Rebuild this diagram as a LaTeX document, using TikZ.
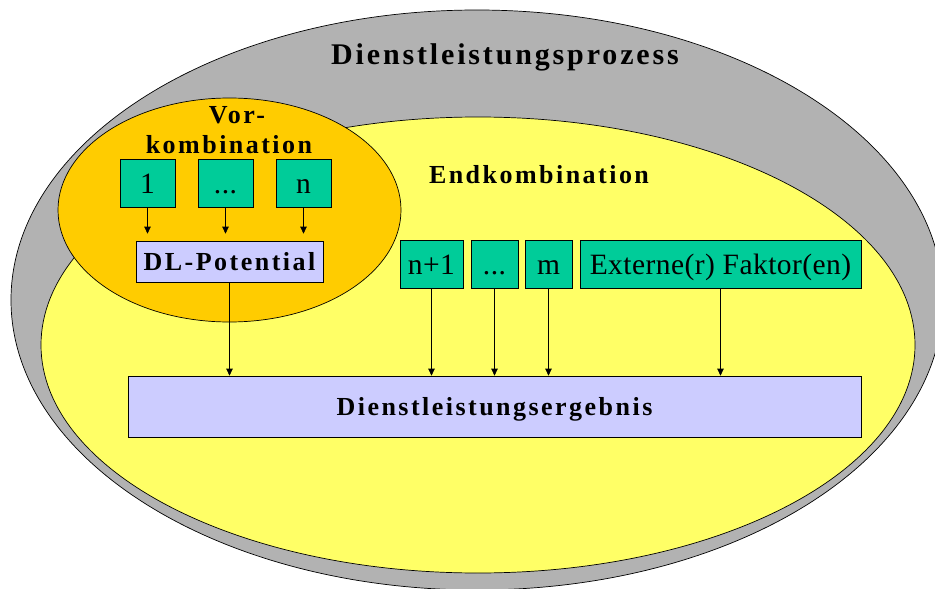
\documentclass[tikz,border=0pt]{standalone}
\usepackage{fontspec}
\setmainfont{Liberation Serif}
\newfontfamily\spbold[LetterSpace=9.5]{Liberation Serif}
\newfontfamily\spreg[LetterSpace=1.5]{Liberation Serif}
\usetikzlibrary{arrows.meta}
\definecolor{cgray}{HTML}{B2B2B2}
\definecolor{cyel}{HTML}{FFFF66}
\definecolor{corange}{HTML}{FFCC00}
\definecolor{cteal}{HTML}{00CC99}
\definecolor{clav}{HTML}{CCCCFF}
\tikzset{
  x=1pt, y=-1pt,
  outl/.style={draw=black, line width=0.7pt},
  fbox/.style={outl, fill=cteal, inner sep=0pt, minimum height=48pt,
    text height=20pt, text depth=0pt,
    font=\spreg\fontsize{29.5}{32}\selectfont},
  rbox/.style={outl, fill=clav, inner sep=0pt,
    text height=17pt, text depth=0pt,
    font=\spbold\bfseries\fontsize{26}{30}\selectfont},
  lbl/.style={inner sep=0pt, anchor=base},
  bl/.style={font=\spbold\bfseries\fontsize{26}{30}\selectfont},
  arr/.style={-{Triangle[length=7pt,width=6.5pt]}, line width=0.7pt},
}
\begin{document}
\begin{tikzpicture}
\useasboundingbox (0,0) rectangle (935,589);
\clip (0,0) rectangle (935,589);
% ellipses
\path[outl, fill=cgray] (477,300) ellipse [x radius=466, y radius=290];
\path[outl, fill=cyel] (478,345) ellipse [x radius=437, y radius=228];
\path[outl, fill=corange] (229.5,210) ellipse [x radius=171.5, y radius=112];
% labels
\node[lbl, font=\spbold\bfseries\fontsize{30}{34}\selectfont] (title) at (505,64) {Dienstleistungsprozess};
\node[lbl, bl] (vor1) at (237,123) {Vor-};
\node[lbl, bl] (vor2) at (229,153) {kombination};
\node[lbl, bl] (endk) at (539,183) {Endkombination};
% Vorkombination factors
\node[fbox, minimum width=55pt] (v1) at (147.5,183) {1};
\node[fbox, minimum width=55pt] (v2) at (225.5,183) {...};
\node[fbox, minimum width=55pt] (v3) at (303.5,183) {n};
\node[rbox, minimum width=187pt, minimum height=41pt] (dlp) at (229.5,261.5) {DL-Potential};
% Endkombination factors
\node[fbox, minimum width=63pt] (e1) at (431.5,264) {n+1};
\node[fbox, minimum width=47pt] (e2) at (494.5,264) {...};
\node[fbox, minimum width=47pt] (e3) at (548.5,264) {m};
\node[fbox, minimum width=281pt] (ext) at (720.5,264) {Externe(r) Faktor(en)};
\node[rbox, minimum width=733pt, minimum height=61pt] (erg) at (494.5,406.5) {Dienstleistungsergebnis};
% arrows
\draw[arr, shorten >=7pt] (v1.south) -- (v1.south |- dlp.north);
\draw[arr, shorten >=7pt] (v2.south) -- (v2.south |- dlp.north);
\draw[arr, shorten >=7pt] (v3.south) -- (v3.south |- dlp.north);
\draw[arr] (dlp.south) -- (dlp.south |- erg.north);
\draw[arr] (e1.south) -- (e1.south |- erg.north);
\draw[arr] (e2.south) -- (e2.south |- erg.north);
\draw[arr] (e3.south) -- (e3.south |- erg.north);
\draw[arr] (ext.south) -- (ext.south |- erg.north);
\end{tikzpicture}
\end{document}
